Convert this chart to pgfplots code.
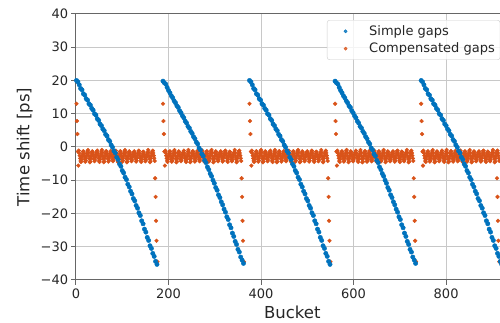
\documentclass[border=0pt]{standalone}
\usepackage{pgfplots}
\pgfplotsset{compat=1.18}
\usepackage{pgfplotstable}
\usepackage{fontspec}
\setmainfont{DejaVu Sans}
\definecolor{mblue}{HTML}{0072BD}
\definecolor{morange}{HTML}{D95319}
\definecolor{gridc}{HTML}{C8C8C8}
\pgfplotstableread{
xa xb xc xd xe ya yb
1 188 375 560 746 20.0 19.8
4 191 378 563 749 19.6 19.3
7 194 381 566 752 18.7 18.9
10 197 384 569 755 17.6 17.9
13 200 387 572 758 17.2 17.0
16 203 390 575 761 16.0 16.3
19 206 393 578 764 15.6 15.4
22 209 396 581 767 14.5 14.8
25 212 399 584 770 14.1 13.9
28 215 402 587 773 13.0 13.3
31 218 405 590 776 12.6 12.4
34 221 408 593 779 11.6 11.9
37 224 411 596 782 11.1 10.9
40 227 414 599 785 10.0 10.3
43 230 417 602 788 9.6 9.4
46 233 420 605 791 8.5 8.8
49 236 423 608 794 8.0 7.8
52 239 426 611 797 6.9 7.2
55 242 429 614 800 6.4 6.2
58 245 432 617 803 5.4 5.7
61 248 435 620 806 4.9 4.7
64 251 438 623 809 3.8 4.1
67 254 441 626 812 3.3 3.1
70 257 444 629 815 2.2 2.5
73 260 447 632 818 1.7 1.5
76 263 450 635 821 0.6 0.9
79 266 453 638 824 -0.1 -0.3
82 269 456 641 827 -1.2 -0.9
85 272 459 644 830 -1.8 -2.1
88 275 462 647 833 -3.1 -2.7
91 278 465 650 836 -3.8 -4.0
94 281 468 653 839 -5.1 -4.7
97 284 471 656 842 -5.8 -6.0
100 287 474 659 845 -7.1 -6.8
103 290 477 662 848 -7.8 -8.0
106 293 480 665 851 -9.1 -8.8
109 296 483 668 854 -9.8 -10.0
112 299 486 671 857 -11.2 -10.9
115 302 489 674 860 -12.0 -12.2
118 305 492 677 863 -13.3 -13.0
121 308 495 680 866 -14.1 -14.4
124 311 498 683 869 -15.5 -15.2
127 314 501 686 872 -16.2 -16.5
130 317 504 689 875 -17.6 -17.4
133 320 507 692 878 -18.4 -18.7
136 323 510 695 881 -19.8 -19.6
139 326 513 698 884 -20.6 -21.0
142 329 516 701 887 -22.2 -21.8
145 332 519 704 890 -23.1 -23.4
148 335 522 707 893 -24.7 -24.3
151 338 525 710 896 -25.6 -25.9
154 341 528 713 899 -27.2 -26.9
157 344 531 716 902 -28.1 -28.4
160 347 534 719 905 -29.7 -29.3
163 350 537 722 908 -30.5 -30.8
166 353 540 725 911 -32.0 -31.6
169 356 543 728 914 -32.9 -33.1
172 359 546 731 917 -34.4 -34.0
175 362 549 734 920 -35.3 -35.0
}\bluetab
\pgfplotstableread{
xa xb xc xd xe y
1 188 375 560 746 13.0
2 189 376 561 747 7.8
3 190 377 562 748 3.9
4 191 378 563 749 -1.4
5 192 379 564 750 -5.6
6 193 380 565 751 -1.1
7 194 381 566 752 -1.8
8 195 382 567 753 -2.6
9 196 383 568 754 -3.4
10 197 384 569 755 -4.2
11 198 385 570 756 -4.5
12 199 386 571 757 -3.7
13 200 387 572 758 -2.9
14 201 388 573 759 -2.1
15 202 389 574 760 -1.4
16 203 390 575 761 -1.3
17 204 391 576 762 -2.0
18 205 392 577 763 -2.8
19 206 393 578 764 -3.6
20 207 394 579 765 -4.4
21 208 395 580 766 -4.1
22 209 396 581 767 -3.3
23 210 397 582 768 -2.5
24 211 398 583 769 -1.8
25 212 399 584 770 -1.2
26 213 400 585 771 -0.9
27 214 401 586 772 -1.7
28 215 402 587 773 -2.7
29 216 403 588 774 -3.6
30 217 404 589 775 -4.6
31 218 405 590 776 -4.3
32 219 406 591 777 -3.4
33 220 407 592 778 -2.6
34 221 408 593 779 -1.9
35 222 409 594 780 -1.3
36 223 410 595 781 -1.5
37 224 411 596 782 -2.2
38 225 412 597 783 -2.9
39 226 413 598 784 -3.7
40 227 414 599 785 -4.3
41 228 415 600 786 -3.9
42 229 416 601 787 -3.1
43 230 417 602 788 -2.4
44 231 418 603 789 -1.8
45 232 419 604 790 -1.6
46 233 420 605 791 -1.1
47 234 421 606 792 -1.8
48 235 422 607 793 -2.6
49 236 423 608 794 -3.4
50 237 424 609 795 -4.2
51 238 425 610 796 -4.5
52 239 426 611 797 -3.7
53 240 427 612 798 -2.9
54 241 428 613 799 -2.1
55 242 429 614 800 -1.4
56 243 430 615 801 -0.9
57 244 431 616 802 -1.7
58 245 432 617 803 -2.7
59 246 433 618 804 -3.6
60 247 434 619 805 -4.6
61 248 435 620 806 -4.3
62 249 436 621 807 -3.4
63 250 437 622 808 -2.6
64 251 438 623 809 -1.9
65 252 439 624 810 -1.3
66 253 440 625 811 -1.3
67 254 441 626 812 -2.0
68 255 442 627 813 -2.8
69 256 443 628 814 -3.6
70 257 444 629 815 -4.4
71 258 445 630 816 -4.1
72 259 446 631 817 -3.3
73 260 447 632 818 -2.5
74 261 448 633 819 -1.8
75 262 449 634 820 -1.2
76 263 450 635 821 -1.5
77 264 451 636 822 -2.2
78 265 452 637 823 -2.9
79 266 453 638 824 -3.7
80 267 454 639 825 -4.3
81 268 455 640 826 -3.9
82 269 456 641 827 -3.1
83 270 457 642 828 -2.4
84 271 458 643 829 -1.8
85 272 459 644 830 -1.6
86 273 460 645 831 -1.1
87 274 461 646 832 -1.8
88 275 462 647 833 -2.6
89 276 463 648 834 -3.4
90 277 464 649 835 -4.2
91 278 465 650 836 -4.5
92 279 466 651 837 -3.7
93 280 467 652 838 -2.9
94 281 468 653 839 -2.1
95 282 469 654 840 -1.4
96 283 470 655 841 -1.3
97 284 471 656 842 -2.0
98 285 472 657 843 -2.8
99 286 473 658 844 -3.6
100 287 474 659 845 -4.4
101 288 475 660 846 -4.1
102 289 476 661 847 -3.3
103 290 477 662 848 -2.5
104 291 478 663 849 -1.8
105 292 479 664 850 -1.2
106 293 480 665 851 -0.9
107 294 481 666 852 -1.7
108 295 482 667 853 -2.7
109 296 483 668 854 -3.6
110 297 484 669 855 -4.6
111 298 485 670 856 -4.3
112 299 486 671 857 -3.4
113 300 487 672 858 -2.6
114 301 488 673 859 -1.9
115 302 489 674 860 -1.3
116 303 490 675 861 -1.5
117 304 491 676 862 -2.2
118 305 492 677 863 -2.9
119 306 493 678 864 -3.7
120 307 494 679 865 -4.3
121 308 495 680 866 -3.9
122 309 496 681 867 -3.1
123 310 497 682 868 -2.4
124 311 498 683 869 -1.8
125 312 499 684 870 -1.6
126 313 500 685 871 -1.3
127 314 501 686 872 -2.0
128 315 502 687 873 -2.8
129 316 503 688 874 -3.6
130 317 504 689 875 -4.4
131 318 505 690 876 -4.1
132 319 506 691 877 -3.3
133 320 507 692 878 -2.5
134 321 508 693 879 -1.8
135 322 509 694 880 -1.2
136 323 510 695 881 -1.1
137 324 511 696 882 -1.8
138 325 512 697 883 -2.6
139 326 513 698 884 -3.4
140 327 514 699 885 -4.2
141 328 515 700 886 -4.5
142 329 516 701 887 -3.7
143 330 517 702 888 -2.9
144 331 518 703 889 -2.1
145 332 519 704 890 -1.4
146 333 520 705 891 -1.5
147 334 521 706 892 -2.2
148 335 522 707 893 -2.9
149 336 523 708 894 -3.7
150 337 524 709 895 -4.3
151 338 525 710 896 -3.9
152 339 526 711 897 -3.1
153 340 527 712 898 -2.4
154 341 528 713 899 -1.8
155 342 529 714 900 -1.6
156 343 530 715 901 -0.9
157 344 531 716 902 -1.7
158 345 532 717 903 -2.7
159 346 533 718 904 -3.6
160 347 534 719 905 -4.6
161 348 535 720 906 -4.3
162 349 536 721 907 -3.4
163 350 537 722 908 -2.6
164 351 538 723 909 -1.9
165 352 539 724 910 -1.3
166 353 540 725 911 -1.1
167 354 541 726 912 -1.8
168 355 542 727 913 -2.6
169 356 543 728 914 -3.4
170 357 544 729 915 -4.2
171 358 545 730 910 -9.4
172 359 546 731 911 -15.0
173 360 547 732 912 -22.2
174 361 548 733 913 -28.2
176 363 550 735 915 -34.5
}\orangetab
\begin{document}
\begin{tikzpicture}
\begin{axis}[
  scale only axis,
  width=432.6bp, height=266bp,
  xmin=0, xmax=935, ymin=-40, ymax=40,
  xtick={0,200,400,600,800},
  xticklabels={0,200,400,600,800},
  ytick={-40,-30,-20,-10,0,10,20,30,40},
  yticklabels={−40,−30,−20,−10,0,10,20,30,40},
  tick align=outside, tick pos=left,
  major tick length=4.6bp,
  tick style={black!60, line width=1bp},
  axis line style={black!60, line width=1bp},
  grid=major,
  major grid style={gridc, line width=1bp},
  tick label style={font=\fontsize{13bp}{15.6bp}\selectfont, text=black!85},
  xticklabel style={inner sep=0pt, anchor=north, yshift=-4.4bp},
  yticklabel style={inner sep=0pt, anchor=east, xshift=-3.1bp},
  label style={font=\fontsize{16.5bp}{19.8bp}\selectfont, text=black!85},
  xlabel={Bucket}, ylabel={Time shift [ps]},
  xlabel style={at={(axis description cs:0.5,0)}, anchor=base, yshift=-39bp, inner sep=0pt},
  ylabel style={at={(axis description cs:-0.0994,0.5)}, anchor=south, inner sep=0pt},
  legend style={at={(axis description cs:0.5802,0.9774)}, anchor=north west,
    draw=black!20, rounded corners=2.5bp, fill=white, fill opacity=0.8, text opacity=1,
    inner xsep=5.2bp, inner ysep=5.4bp, font=\fontsize{13bp}{15.6bp}\selectfont, text=black!85,
    column sep=10.4bp, row sep=6bp, nodes={inner sep=0pt}},
  legend cell align=left,
  legend image code/.code={\path (0bp,0bp) (26bp,0bp); \draw[#1] plot coordinates {(13bp,0bp)};},
]
\addlegendimage{only marks, mark=*, mark size=1.6bp, color=mblue}
\addlegendentry{Simple gaps}
\addlegendimage{only marks, mark=*, mark size=1.6bp, color=morange}
\addlegendentry{Compensated gaps}
\addplot[only marks, mark=*, mark size=1.9bp, color=morange, forget plot] table[x=xa, y=y] {\orangetab};
\addplot[only marks, mark=*, mark size=1.9bp, color=morange, forget plot] table[x=xb, y=y] {\orangetab};
\addplot[only marks, mark=*, mark size=1.9bp, color=morange, forget plot] table[x=xc, y=y] {\orangetab};
\addplot[only marks, mark=*, mark size=1.9bp, color=morange, forget plot] table[x=xd, y=y] {\orangetab};
\addplot[only marks, mark=*, mark size=1.9bp, color=morange, forget plot] table[x=xe, y=y] {\orangetab};
\addplot[only marks, mark=*, mark size=2.2bp, color=mblue, forget plot] table[x=xa, y=ya] {\bluetab};
\addplot[only marks, mark=*, mark size=2.2bp, color=mblue, forget plot] table[x=xb, y=yb] {\bluetab};
\addplot[only marks, mark=*, mark size=2.2bp, color=mblue, forget plot] table[x=xc, y=ya] {\bluetab};
\addplot[only marks, mark=*, mark size=2.2bp, color=mblue, forget plot] table[x=xd, y=yb] {\bluetab};
\addplot[only marks, mark=*, mark size=2.2bp, color=mblue, forget plot] table[x=xe, y=ya] {\bluetab};
\end{axis}
\pgfresetboundingbox
\path[use as bounding box] ([xshift=-76bp,yshift=-43bp]current axis.south west) rectangle ([xshift=424bp,yshift=14bp]current axis.north west);
\end{tikzpicture}
\end{document}
